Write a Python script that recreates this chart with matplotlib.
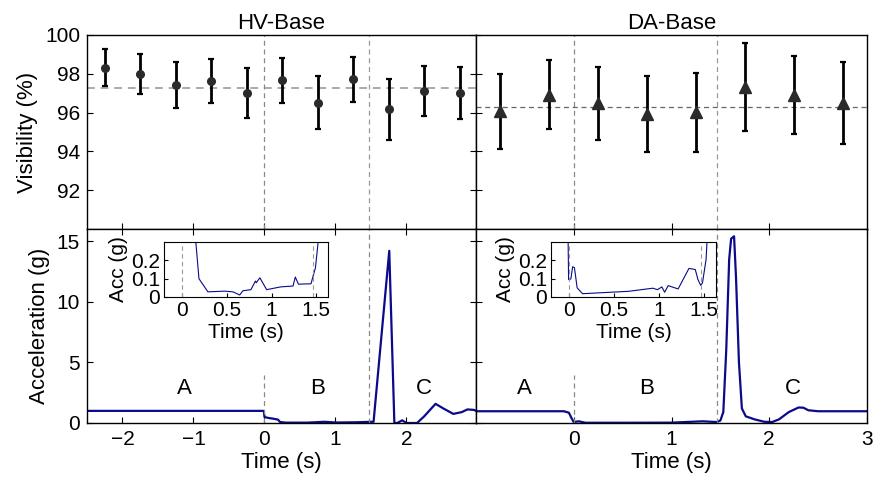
import numpy as np
import matplotlib
matplotlib.use("Agg")
import matplotlib.pyplot as plt

plt.rcParams['font.family'] = ['Liberation Sans', 'DejaVu Sans']
plt.rcParams['font.size'] = 15

# visibility data
hv_t = [-2.25, -1.75, -1.25, -0.75, -0.25, 0.25, 0.75, 1.25, 1.75, 2.25, 2.75]
hv_vis = [98.32, 97.99, 97.42, 97.64, 97.03, 97.66, 96.52, 97.71, 96.16, 97.12, 97.0]
hv_err = [0.96, 1.04, 1.17, 1.14, 1.29, 1.14, 1.38, 1.16, 1.57, 1.3, 1.34]
hv_mean = 97.25

da_t = [-0.75, -0.25, 0.25, 0.75, 1.25, 1.75, 2.25, 2.75]
da_vis = [96.07, 96.91, 96.49, 95.93, 96.01, 97.34, 96.92, 96.49]
da_err = [1.94, 1.78, 1.88, 1.97, 2.03, 2.27, 2.02, 2.11]
da_mean = 96.29

# acceleration traces
hv_acc_t = [-2.5, -0.01, 0.0, 0.05, 0.12, 0.19, 0.22, 0.3, 0.6, 0.85, 1.0, 1.3, 1.5, 1.537,
            1.758, 1.83, 1.87, 1.94, 2.0, 2.15, 2.25, 2.41, 2.52, 2.66, 2.78, 2.86, 2.95, 3.0]
hv_acc = [1.0, 1.0, 0.5, 0.42, 0.36, 0.28, 0.08, 0.03, 0.03, 0.1, 0.04, 0.06, 0.1, 0.1,
          14.2, 0.0, 0.0, 0.22, 0.0, 0.0, 0.55, 1.58, 1.2, 0.75, 0.9, 1.12, 1.08, 0.95]

da_acc_t = [-1.0, -0.1, -0.05, -0.02, 0.0, 0.05, 0.12, 0.5, 1.0, 1.32, 1.46, 1.5, 1.53, 1.56,
            1.59, 1.61, 1.64, 1.66, 1.69, 1.72, 1.76, 1.85, 1.95, 2.03, 2.1, 2.2, 2.3, 2.35,
            2.4, 2.5, 3.0]
da_acc = [0.97, 0.97, 0.85, 0.36, 0.08, 0.14, 0.02, 0.02, 0.03, 0.14, 0.08, 0.2, 0.9, 6.0,
          13.5, 15.2, 15.4, 12.0, 5.0, 1.2, 0.55, 0.3, 0.1, 0.08, 0.3, 0.9, 1.28, 1.26,
          1.05, 0.97, 0.97]

# zoomed-in segment B
hv_in_t = [0.155, 0.19, 0.29, 0.38, 0.475, 0.57, 0.645, 0.68, 0.77, 0.82, 0.83, 0.87, 0.945,
           1.1, 1.24, 1.265, 1.3, 1.44, 1.49, 1.52]
hv_in = [0.3, 0.1, 0.028, 0.03, 0.032, 0.028, 0.011, 0.034, 0.04, 0.087, 0.078, 0.105, 0.04,
         0.055, 0.06, 0.109, 0.07, 0.072, 0.16, 0.3]

da_in_t = [-0.01, -0.005, 0.02, 0.04, 0.06, 0.09, 0.15, 0.66, 0.93, 0.98, 1.03, 1.06, 1.1,
           1.21, 1.33, 1.4, 1.43, 1.46, 1.48, 1.52, 1.53]
da_in = [0.3, 0.095, 0.098, 0.165, 0.16, 0.05, 0.018, 0.031, 0.048, 0.04, 0.055, 0.026, 0.062,
         0.044, 0.156, 0.15, 0.095, 0.064, 0.077, 0.205, 0.3]

t_release = 1.47
navy = '#0a0a8a'

fig = plt.figure(figsize=(8.74, 4.83), dpi=100)
W, H = 874, 483


def px_axes(x0, y0, x1, y1):
    return fig.add_axes([x0 / W, 1 - y1 / H, (x1 - x0) / W, (y1 - y0) / H])


ax_hv = px_axes(87, 35, 476, 229)
ax_da = px_axes(476, 35, 867, 229)
ax_hv2 = px_axes(87, 229, 476, 423)
ax_da2 = px_axes(476, 229, 867, 423)

for ax in [ax_hv, ax_da, ax_hv2, ax_da2]:
    ax.tick_params(direction='in', length=4, width=0.8, labelsize=15, pad=5)
    for s in ax.spines.values():
        s.set_linewidth(1.0)

# top panels
ax_hv.errorbar(hv_t, hv_vis, yerr=hv_err, fmt='o', color='#2a2a2a', ecolor='black',
               elinewidth=2, capsize=2, capthick=1.6, markersize=5.5, zorder=3)
ax_hv.axhline(hv_mean, color='#aaaaaa', ls=(0, (4, 3)), lw=1.4)
ax_da.errorbar(da_t, da_vis, yerr=da_err, fmt='^', color='#2a2a2a', ecolor='black',
               elinewidth=2, capsize=2, capthick=1.6, markersize=8.5, zorder=3)
ax_da.axhline(da_mean, color='#666666', ls=(0, (4, 3)), lw=0.9)

for ax in [ax_hv, ax_da]:
    ax.axvline(0, color='#888888', ls=(0, (4, 3)), lw=0.9)
    ax.axvline(t_release, color='#999999', ls=(0, (4, 3)), lw=0.9)
    ax.set_ylim(90, 100)
    ax.set_yticks([92, 94, 96, 98, 100])
    ax.tick_params(labelbottom=False)

ax_hv.set_xlim(-2.5, 2.98)
ax_hv.set_xticks([-2, -1, 0, 1, 2])
ax_hv.tick_params(right=True)
ax_hv.set_ylabel('Visibility (%)', fontsize=16, labelpad=5)
ax_hv.set_title('HV-Base', fontsize=16, pad=4)

ax_da.set_xlim(-1.0, 3.0)
ax_da.set_xticks([0, 1, 2])
ax_da.tick_params(labelleft=False)
ax_da.set_title('DA-Base', fontsize=16, pad=4)

# bottom panels
ax_hv2.plot(hv_acc_t, hv_acc, color=navy, lw=1.6)
ax_da2.plot(da_acc_t, da_acc, color=navy, lw=1.6)

for ax in [ax_hv2, ax_da2]:
    ax.axvline(t_release, color='#888888', ls=(0, (4, 3)), lw=0.9)
    ax.plot([0, 0], [0, 4], color='#888888', ls=(0, (4, 3)), lw=0.9)
    ax.set_ylim(0, 16)
    ax.set_yticks([0, 5, 10, 15])
    ax.tick_params(top=True)
    ax.set_xlabel('Time (s)', fontsize=16, labelpad=2)

ax_hv2.set_xlim(-2.5, 2.98)
ax_hv2.set_xticks([-2, -1, 0, 1, 2])
ax_hv2.tick_params(right=True)
ax_hv2.set_ylabel('Acceleration (g)', fontsize=16, labelpad=5)
ax_hv2.text(-1.13, 2.85, 'A', ha='center', va='center', fontsize=16)
ax_hv2.text(0.75, 2.85, 'B', ha='center', va='center', fontsize=16)
ax_hv2.text(2.24, 2.85, 'C', ha='center', va='center', fontsize=16)

ax_da2.set_xlim(-1.0, 3.0)
ax_da2.set_xticks([0, 1, 2, 3])
ax_da2.tick_params(labelleft=False)
ax_da2.text(-0.5, 2.85, 'A', ha='center', va='center', fontsize=16)
ax_da2.text(0.74, 2.85, 'B', ha='center', va='center', fontsize=16)
ax_da2.text(2.24, 2.85, 'C', ha='center', va='center', fontsize=16)

# insets
in_hv = px_axes(164, 242, 328, 297)
in_da = px_axes(551, 242, 716, 297)
in_hv.plot(hv_in_t, hv_in, color=navy, lw=0.8)
in_da.plot(da_in_t, da_in, color=navy, lw=0.8)
for ax in [in_hv, in_da]:
    ax.axvline(0, color='#999999', ls=(0, (4, 3)), lw=0.8)
    ax.axvline(1.46, color='#999999', ls=(0, (4, 3)), lw=0.8)
    ax.set_xlim(-0.2, 1.63)
    ax.set_ylim(0, 0.3)
    ax.set_xticks([0, 0.5, 1, 1.5])
    ax.set_xticklabels(['0', '0.5', '1', '1.5'])
    ax.set_yticks([0, 0.1, 0.2])
    ax.set_yticklabels(['0', '0.1', '0.2'])
    ax.tick_params(direction='in', length=3, labelsize=15, pad=3)
    ax.set_xlabel('Time (s)', fontsize=15, labelpad=2)
    ax.set_ylabel('Acc (g)', fontsize=15, labelpad=2)

fig.savefig('out.png', dpi=100)
